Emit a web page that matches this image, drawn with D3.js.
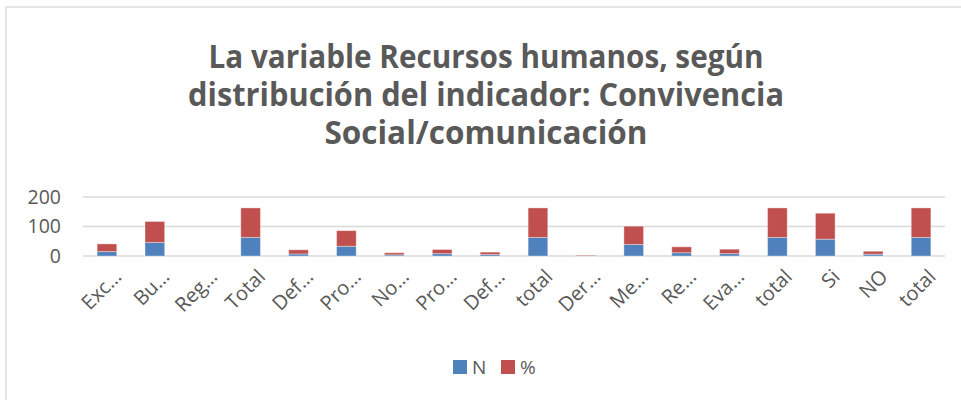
<!DOCTYPE html>
<html>
<head>
<meta charset="utf-8">
<script src="https://cdn.jsdelivr.net/npm/d3@7"></script>
<style>
  body { margin: 0; background: #fff; }
  svg { display: block; font-family: "Open Sans", sans-serif; }
</style>
</head>
<body>
<div id="chart"></div>
<script>
// categories as shown (Excel truncates long labels)
var categories = ["Exc…", "Bu…", "Reg…", "Total", "Def…", "Pro…", "No…", "Pro…", "Def…", "total",
                  "Der…", "Me…", "Re…", "Eva…", "total", "Si", "NO", "total"]
var nValues   = [15, 46, 0, 63, 7, 33, 4, 8, 5, 63, 1, 39, 11, 8, 63, 57, 6, 63]
var pctValues = [26, 71, 0, 100, 14, 53, 7, 14, 8, 100, 2, 62, 20, 15, 100, 88, 10, 100]
var seriesNames = ["N", "%"]
var yTicks = [0, 100, 200]
var titleLines = ["La variable Recursos humanos, según",
                  "distribución del indicador: Convivencia",
                  "Social/comunicación"]

var colors = ["#4f81bd", "#c0504d"]
var textColor = "#595959"

var width = 961, height = 400
var svg = d3.select("#chart").append("svg")
    .attr("width", width).attr("height", height)

// chart frame (only left/top visible in the crop)
svg.append("rect")
    .attr("x", 6).attr("y", 7)
    .attr("width", 980).attr("height", 420)
    .attr("fill", "none")
    .attr("stroke", "#d9d9d9")
    .attr("stroke-width", 1.3)

// title
var titleLens = [555, 596, 323]
svg.append("g").selectAll("text")
    .data(titleLines)
    .enter()
    .append("text")
    .attr("x", 486)
    .attr("y", function(d, i) { return 68 + i * 38; })
    .attr("text-anchor", "middle")
    .attr("textLength", function(d, i) { return titleLens[i]; })
    .attr("lengthAdjust", "spacingAndGlyphs")
    .attr("fill", textColor)
    .style("font-size", "33px")
    .style("font-weight", "bold")
    .text(function(d) { return d; })

var x = d3.scaleBand()
    .domain(d3.range(categories.length))
    .range([83, 945])
    .paddingInner(0.59)
    .paddingOuter(0.295)

var y = d3.scaleLinear()
    .domain([0, 200])
    .range([256, 197])

// gridlines
svg.append("g").selectAll("line")
    .data(yTicks)
    .enter()
    .append("line")
    .attr("x1", 83).attr("x2", 945)
    .attr("y1", function(d) { return y(d); })
    .attr("y2", function(d) { return y(d); })
    .attr("stroke", "#d9d9d9")
    .attr("stroke-width", 1.4)

// y axis labels
var yAxis = d3.axisLeft(y).tickValues(yTicks).tickSize(0).tickPadding(0)
var gy = svg.append("g")
    .attr("transform", "translate(61,0)")
    .call(yAxis)
gy.select(".domain").remove()
gy.selectAll("text")
    .attr("fill", textColor)
    .style("font-size", "19.5px")
    .style("font-family", "'Open Sans', sans-serif")

// stacked bars
var rows = categories.map(function(c, i) { return {i: i, N: nValues[i], "%": pctValues[i]}; })
var stacked = d3.stack().keys(seriesNames)(rows)

svg.append("g").selectAll("g")
    .data(stacked)
    .enter()
    .append("g")
    .attr("fill", function(d, i) { return colors[i]; })
    .selectAll("rect")
    .data(function(d) { return d; })
    .enter()
    .append("rect")
    .attr("x", function(d) { return x(d.data.i); })
    .attr("width", x.bandwidth())
    .attr("y", function(d) { return y(d[1]); })
    .attr("height", function(d) { return y(d[0]) - y(d[1]); })
    .attr("stroke", "#fff")
    .attr("stroke-opacity", 0.35)
    .attr("stroke-width", 1)

// category labels, rotated
svg.append("g").selectAll("text")
    .data(categories)
    .enter()
    .append("text")
    .attr("transform", function(d, i) {
      return "translate(" + (x(i) + x.bandwidth() / 2 + 6) + ",268) rotate(-45)";
    })
    .attr("text-anchor", "end")
    .attr("dy", "0.7em")
    .attr("fill", textColor)
    .style("font-size", "20px")
    .text(function(d) { return d; })

// legend
var legend = svg.append("g").selectAll("g")
    .data(seriesNames)
    .enter()
    .append("g")
    .attr("transform", function(d, i) { return "translate(" + (453 + i * 48) + ",360)"; })
legend.append("rect")
    .attr("width", 14).attr("height", 14)
    .attr("fill", function(d, i) { return colors[i]; })
legend.append("text")
    .attr("x", 19).attr("y", 14)
    .attr("fill", textColor)
    .style("font-size", "19px")
    .text(function(d) { return d; })
</script>
</body>
</html>
